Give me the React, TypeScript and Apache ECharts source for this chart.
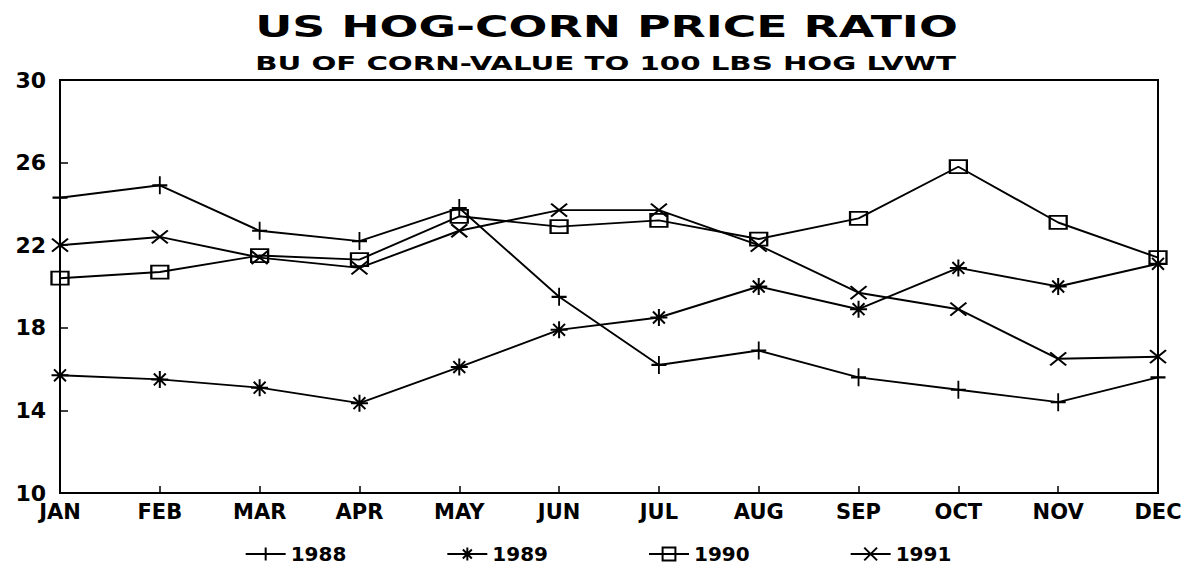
import React, { useEffect, useRef } from "react";
import * as echarts from "echarts";

const months = ["JAN", "FEB", "MAR", "APR", "MAY", "JUN", "JUL", "AUG", "SEP", "OCT", "NOV", "DEC"];
const y1988 = [24.3, 24.9, 22.7, 22.2, 23.8, 19.5, 16.2, 16.9, 15.6, 15.0, 14.4, 15.6];
const y1989 = [15.7, 15.5, 15.1, 14.35, 16.1, 17.9, 18.5, 20.0, 18.9, 20.9, 20.0, 21.1];
const y1990 = [20.4, 20.7, 21.5, 21.3, 23.4, 22.9, 23.2, 22.3, 23.3, 25.8, 23.1, 21.4];
const y1991 = [22.0, 22.4, 21.4, 20.9, 22.7, 23.7, 23.7, 22.0, 19.7, 18.9, 16.5, 16.6];
const yLabels = [10, 14, 18, 22, 26, 30];
const yTicks = [14, 18, 22, 26];

const TITLE = "US HOG-CORN PRICE RATIO";
const SUBTITLE = "BU OF CORN-VALUE TO 100 LBS HOG LVWT";
const FONT = '"DejaVu Sans", "Liberation Sans", sans-serif';

const SYM_PLUS = "path://M0,5L10,5M5,0L5,10";
const SYM_STAR = "path://M0,5L10,5M5,0L5,10M1.5,1.5L8.5,8.5M8.5,1.5L1.5,8.5";
const SYM_SQUARE = "path://M0,0L10,0L10,8L0,8Z";
const SYM_CROSS = "path://M0,0L10,10M10,0L0,10";

function measure(text: string, font: string): number {
  const c = document.createElement("canvas");
  const ctx = c.getContext("2d");
  if (!ctx) return 1;
  ctx.font = font;
  return ctx.measureText(text).width || 1;
}

export default function App() {
  const ref = useRef<HTMLDivElement>(null);
  useEffect(() => {
    document.body.style.margin = "0";
    if (!ref.current) return;
    const chart = echarts.init(ref.current, undefined, { renderer: "svg" });
    const titleFont = "bold 31px " + FONT;
    const subFont = "bold 19px " + FONT;
    const tScale = 703 / measure(TITLE, titleFont);
    const sScale = 701 / measure(SUBTITLE, subFont);

    const mk = (name: string, data: number[], symbol: string, size: number[]) => ({
      name,
      type: "line",
      data,
      symbol,
      symbolSize: size,
      color: "#000",
      lineStyle: { color: "#000", width: 1.9 },
      itemStyle: { color: "transparent", borderColor: "#000", borderWidth: 2 },
      emphasis: { disabled: true },
    });

    chart.setOption({
      animation: false,
      backgroundColor: "#fff",
      graphic: [
        {
          type: "text",
          x: 606.5,
          y: 26,
          scaleX: tScale,
          style: { text: TITLE, font: titleFont, fill: "#000", align: "center", verticalAlign: "middle" },
        },
        {
          type: "text",
          x: 605.5,
          y: 63.5,
          scaleX: sScale,
          style: { text: SUBTITLE, font: subFont, fill: "#000", align: "center", verticalAlign: "middle" },
        },
      ],
      grid: {
        left: 60,
        right: 38,
        top: 80,
        bottom: 92,
        show: true,
        borderColor: "#000",
        borderWidth: 2,
        backgroundColor: "transparent",
      },
      legend: {
        top: 539,
        left: "center",
        itemWidth: 40,
        itemHeight: 16,
        itemGap: 100,
        textStyle: { fontFamily: FONT, fontWeight: "bold", fontSize: 20, color: "#000" },
        data: ["1988", "1989", "1990", "1991"],
      },
      xAxis: {
        type: "category",
        data: months,
        boundaryGap: false,
        axisLine: { lineStyle: { color: "#000", width: 2 } },
        axisTick: { inside: true, length: 7, lineStyle: { color: "#000", width: 1.5 } },
        axisLabel: { color: "#000", fontFamily: FONT, fontWeight: "bold", fontSize: 21, margin: 8 },
        splitLine: { show: false },
      },
      yAxis: {
        type: "value",
        min: 10,
        max: 30,
        axisLine: { show: true, lineStyle: { color: "#000", width: 2 } },
        axisTick: { show: true, inside: true, length: 8, customValues: yTicks, lineStyle: { color: "#000", width: 1.5 } },
        axisLabel: { color: "#000", fontFamily: FONT, fontWeight: "bold", fontSize: 22, margin: 14, customValues: yLabels },
        splitLine: { show: false },
      },
      series: [
        mk("1988", y1988, SYM_PLUS, [15, 18]),
        mk("1989", y1989, SYM_STAR, [17, 17]),
        mk("1990", y1990, SYM_SQUARE, [17, 13]),
        mk("1991", y1991, SYM_CROSS, [16, 13]),
      ],
    });
    return () => chart.dispose();
  }, []);
  return <div ref={ref} style={{ width: 1196, height: 585 }} />;
}
